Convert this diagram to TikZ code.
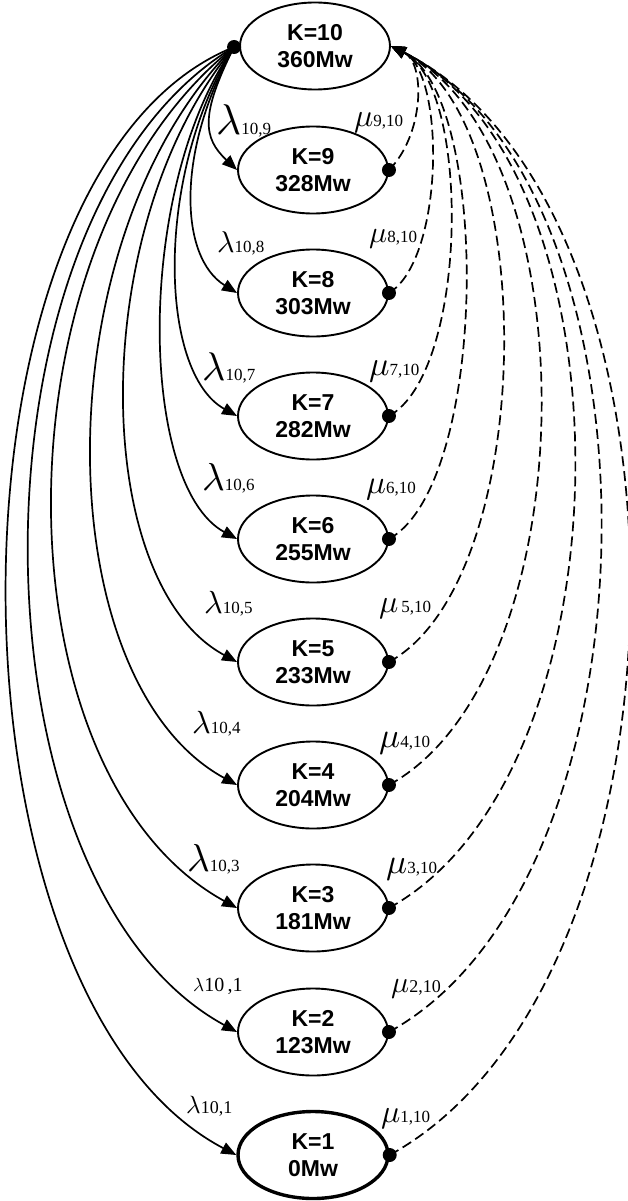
\documentclass[tikz,border=0pt]{standalone}
\usepackage{fontspec}
\setmainfont{Liberation Sans}
\newfontfamily\lmser{Liberation Serif}
\usetikzlibrary{arrows.meta,calc,shapes.geometric}
\newcommand\lablam[3]{{\scalebox{#1}{$\lambda$}}{\lmser\fontsize{#2}{#2}\selectfont #3}}
\newcommand\labmu[3]{{\scalebox{#1}{$\mu$}}{\lmser\fontsize{#2}{#2}\selectfont #3}}
\tikzset{
  state/.style={ellipse, draw, line width=1.9pt, minimum width=150pt, minimum height=87pt, inner sep=0pt,
    align=center, font=\fontsize{23}{27}\selectfont\bfseries},
  solidarc/.style={line width=1.7pt, -{Triangle[length=15pt,width=12pt]}},
  dasharc/.style={line width=1.7pt, dash pattern=on 10pt off 5pt, -{Triangle[length=15pt,width=12pt]}},
  lab/.style={anchor=base west, inner sep=0pt},
}
\begin{document}
\begin{tikzpicture}[x=1pt,y=-1pt]
\useasboundingbox (0,0) rectangle (627,1201);
\node[state] (K10) at (315,46) {K=10\\360Mw};
\node[state] (K9) at (313,170) {K=9\\328Mw};
\node[state] (K8) at (313,293) {K=8\\303Mw};
\node[state] (K7) at (313,416) {K=7\\282Mw};
\node[state] (K6) at (313,539) {K=6\\255Mw};
\node[state] (K5) at (313,662) {K=5\\233Mw};
\node[state] (K4) at (313,785) {K=4\\204Mw};
\node[state] (K3) at (313,908) {K=3\\181Mw};
\node[state] (K2) at (313,1032) {K=2\\123Mw};
\node[state, line width=3.4pt] (K1) at (313,1155) {K=1\\0Mw};
\coordinate (s) at ($(K10.west)+(-5,1)$);
% left solid arcs: n / a / b / d
\foreach \n/\a/\b/\d in {9/34/68/32, 8/58/104/36, 7/79/126/44, 6/99/139/54, 5/148/178/80, 4/192/192/105, 3/244/195/134, 2/275/165/150, 1/304/122/160}{
  \draw[solidarc] (s) .. controls ($(s)+(-\a,\b)$) and ($(K\n.west)+(-\a,-\d)$) .. (K\n.west);
}
% right dashed arcs: n / r / v
\foreach \n/\r/\v in {9/35/35, 8/55/33, 7/80/44, 6/100/55, 5/150/82, 4/200/110, 3/245/135, 2/280/154, 1/318/175}{
  \draw[dasharc] (K\n.east) .. controls ($(K\n.east)+(\r,-\v)$) and ($(K10.east)+(\r,0.5*\r)$) .. (K10.east);
  \fill (K\n.east) circle (7pt);
}
\fill (s) circle (7pt);
% labels
\node[lab] (l9) at (216,135) {\lablam{4.3}{17}{10,9}};
\node[lab] (l8) at (217,252) {\lablam{3.0}{17}{10,8}};
\node[lab] (l7) at (202,380) {\lablam{4.0}{17}{10,7}};
\node[lab] (l6) at (202,490) {\lablam{3.9}{17}{10,6}};
\node[lab] (l5) at (204,613) {\lablam{3.2}{17}{10,5}};
\node[lab] (l4) at (192,733) {\lablam{3.2}{17}{10,4}};
\node[lab] (l3) at (187,871) {\lablam{3.9}{17}{10,3}};
\node[lab] (l2) at (193,991) {\lablam{1.9}{20}{10\,,1}};
\node[lab] (l1) at (186,1113) {\lablam{2.5}{18}{10,1}};
\node[lab] (m9) at (354,127) {\labmu{3.2}{17}{9,10}};
\node[lab] (m8) at (369,242) {\labmu{3.0}{17}{8,10}};
\node[lab] (m7) at (369,375) {\labmu{3.4}{17}{7,10}};
\node[lab] (m6) at (366,493) {\labmu{3.3}{17}{6,10}};
\node[lab] (m5) at (379,612) {\labmu{3.2}{17}{\,5,10}};
\node[lab] (m4) at (379,747) {\labmu{3.5}{17}{4,10}};
\node[lab] (m3) at (386,873) {\labmu{3.5}{17}{3,10}};
\node[lab] (m2) at (391,992) {\labmu{3.0}{18}{2,10}};
\node[lab] (m1) at (381,1122) {\labmu{3.2}{17}{1,10}};
\end{tikzpicture}
\end{document}
